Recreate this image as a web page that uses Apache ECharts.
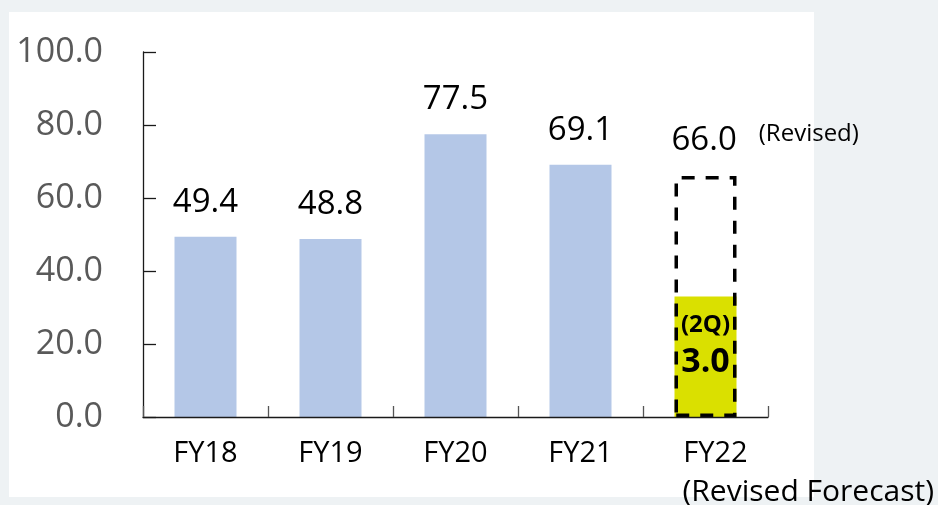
<!DOCTYPE html>
<html lang="en">
<head>
    <meta charset="UTF-8">
    <title>Bar chart</title>
    <style>
        html, body { margin: 0; padding: 0; background: #eef2f4; }
        #main { width: 938px; height: 505px; }
    </style>
</head>
<body>
<div id="main"></div>
<script src="https://cdn.jsdelivr.net/npm/echarts@6/dist/echarts.min.js"></script>
<script>
    // data
    var categories = ['FY18', 'FY19', 'FY20', 'FY21', 'FY22'];
    var results = [49.4, 48.8, 77.5, 69.1];
    var fy22Actual2Q = 33.0;      // height of the yellow bar
    var fy22ActualLabel = '3.0';  // text printed inside it
    var fy22Forecast = 66.0;
    var yTicks = [0, 20, 40, 60, 80, 100];

    var font = '"Open Sans", "Noto Sans", sans-serif';
    var chartDom = document.getElementById('main');
    var myChart = echarts.init(chartDom);

    var actualData = results.map(function (v) { return v; });
    actualData.push({
        value: fy22Actual2Q,
        itemStyle: { color: '#dae000' },
        label: {
            position: 'insideTop',
            distance: 12,
            formatter: '{q|(2Q)}\n{v|' + fy22ActualLabel + '}',
            rich: {
                q: { fontSize: 24, fontWeight: 'bold', color: '#000', fontFamily: font, lineHeight: 34 },
                v: { fontSize: 34, fontWeight: 'bold', color: '#000', fontFamily: font, lineHeight: 40 }
            }
        }
    });

    var forecastData = categories.map(function (c) { return '-'; });
    forecastData[4] = fy22Forecast;

    var panel = {
        type: 'rect',
        z: -10,
        silent: true,
        shape: { x: 9, y: 12, width: 805, height: 485 },
        style: { fill: '#ffffff' }
    };

    var option = {
        backgroundColor: '#eef2f4',
        animation: false,
        graphic: [panel],
        grid: { left: 143, right: 170, top: 52, bottom: 88 },
        xAxis: {
            type: 'category',
            data: categories,
            boundaryGap: true,
            z: 5,
            axisLine: { show: true, lineStyle: { color: '#1a1a1a', width: 1.3 } },
            axisTick: {
                show: true,
                inside: true,
                interval: 0,
                alignWithLabel: false,
                length: 11,
                lineStyle: { color: '#555', width: 1.3 }
            },
            axisLabel: {
                interval: 0,
                margin: 22,
                fontSize: 29,
                color: '#000',
                fontFamily: font,
                formatter: function (v) {
                    return v === 'FY22' ? '{f|' + v + '}' : v;
                },
                rich: {
                    f: { fontSize: 29, color: '#000', fontFamily: font, padding: [0, 0, 0, 20] }
                }
            }
        },
        yAxis: {
            type: 'value',
            min: yTicks[0],
            max: yTicks[yTicks.length - 1],
            interval: 20,
            splitLine: { show: false },
            axisLine: { show: true, lineStyle: { color: '#1a1a1a', width: 1.3 } },
            axisTick: { show: true, inside: true, length: 13, lineStyle: { color: '#1a1a1a', width: 1.3 } },
            axisLabel: {
                margin: 40,
                fontSize: 34,
                color: '#595959',
                fontFamily: font,
                formatter: function (v) { return v.toFixed(1); }
            }
        },
        series: [
            {
                name: 'Results',
                type: 'bar',
                barWidth: 62,
                barGap: '-100%',
                itemStyle: { color: '#b4c7e7' },
                label: {
                    show: true,
                    position: 'top',
                    distance: 18,
                    fontSize: 33,
                    color: '#000',
                    fontFamily: font,
                    formatter: function (p) { return p.value.toFixed(1); }
                },
                data: actualData
            },
            {
                name: 'Forecast',
                type: 'bar',
                barWidth: 62,
                barGap: '-100%',
                itemStyle: {
                    color: 'rgba(0,0,0,0)',
                    borderColor: '#000',
                    borderWidth: 3.5,
                    borderType: [13, 11]
                },
                label: {
                    show: true,
                    position: 'top',
                    distance: 18,
                    align: 'left',
                    offset: [-34, 0],
                    formatter: function (p) {
                        return '{v|' + p.value.toFixed(1) + '}{s|(Revised)}';
                    },
                    rich: {
                        v: { fontSize: 33, color: '#000', fontFamily: font },
                        s: { fontSize: 24, color: '#000', fontFamily: font, padding: [0, 0, 12, 22] }
                    }
                },
                data: forecastData
            }
        ]
    };

    myChart.setOption(option);

    // second line of the FY22 category label, left-aligned under "FY22"
    var fyX = myChart.convertToPixel({ xAxisIndex: 0 }, 'FY22');
    myChart.setOption({
        graphic: [panel, {
            type: 'text',
            x: fyX - 23,
            y: 492,
            style: {
                text: '(Revised Forecast)',
                font: '30px ' + font,
                fill: '#000',
                textVerticalAlign: 'middle'
            }
        }]
    });
</script>
</body>
</html>
